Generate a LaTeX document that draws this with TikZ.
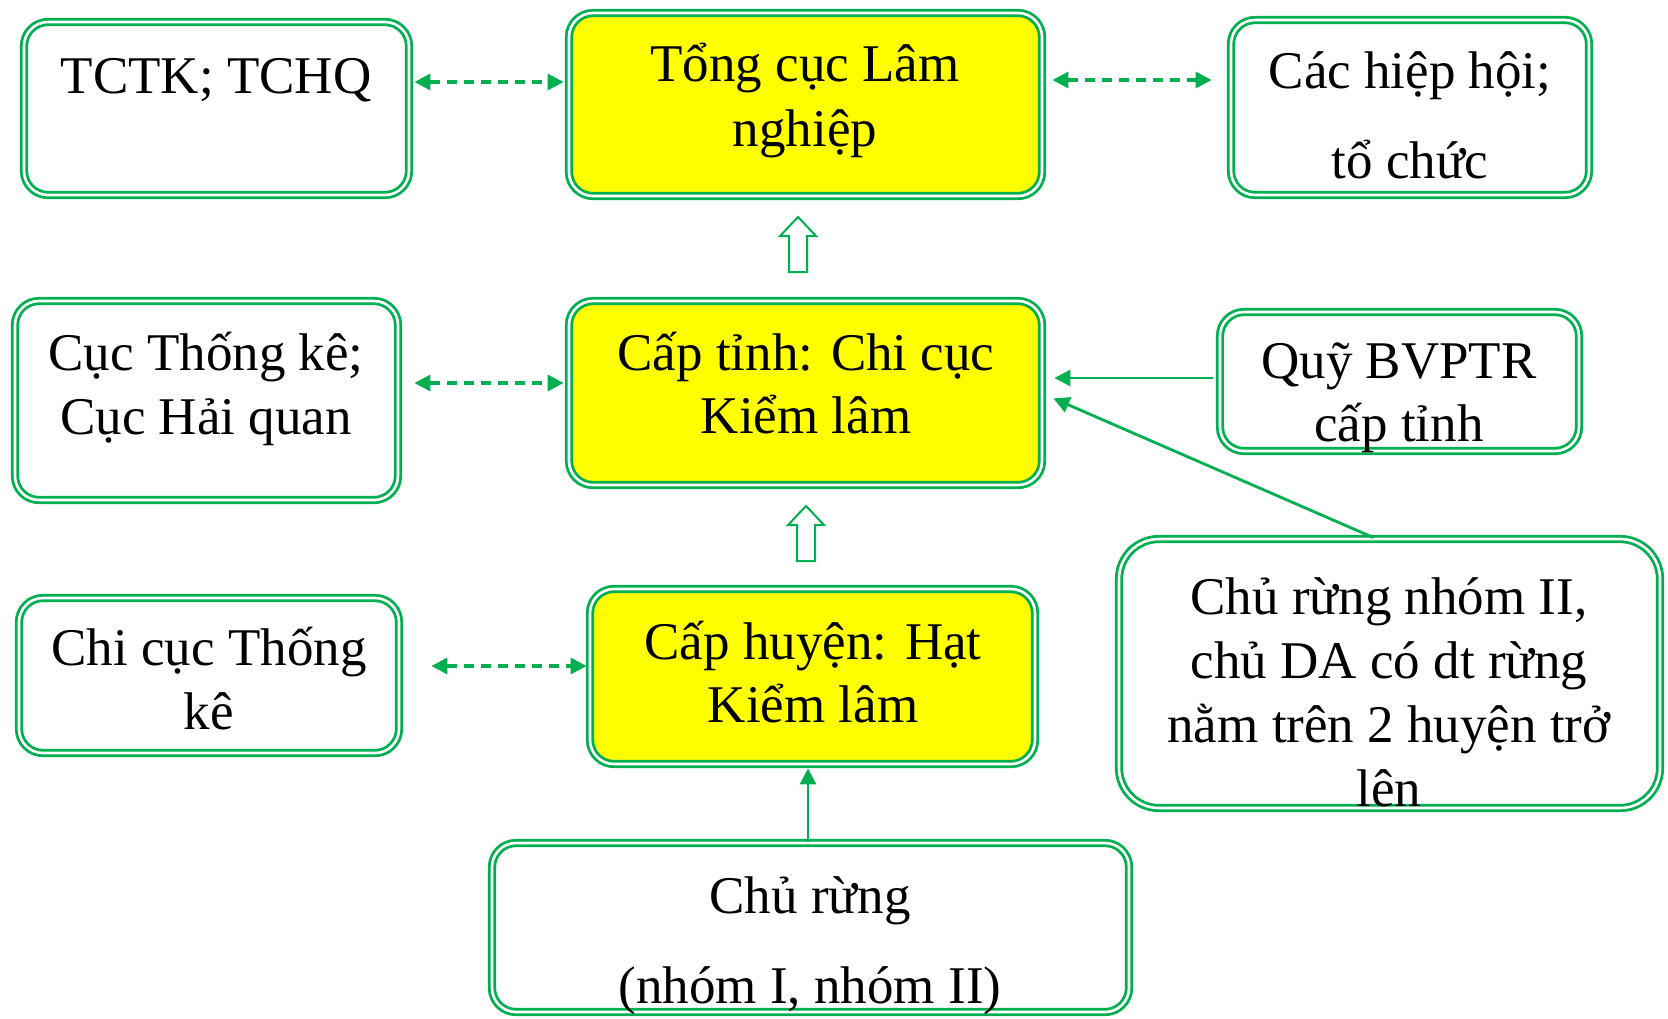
\documentclass[tikz,border=0pt]{standalone}
\usepackage{fontspec}
\setmainfont{Liberation Serif}
\usetikzlibrary{arrows.meta,fit}
\definecolor{lg}{RGB}{0,176,80}
\definecolor{yel}{RGB}{255,255,0}
\tikzset{
  box/.style={draw=lg, line width=1.4pt, double=white, double distance=1.3pt,
    rounded corners=12pt, inner sep=0pt, rectangle},
  ybox/.style={box, fill=yel},
  lbl/.style={anchor=base, inner sep=0pt, font=\fontsize{26.5}{32}\selectfont},
  darr/.style={lg, line width=1.6pt, dash pattern=on 5pt off 3.5pt,
    {Triangle[length=8pt,width=8pt]}-{Triangle[length=8pt,width=8pt]}},
  sarr/.style={lg, line width=1.4pt, -{Triangle[length=8pt,width=8pt]}},
  blockup/.pic={\draw[lg, line width=1pt, fill=white, line join=miter]
    (0,0) -- (18,19) -- (9,19) -- (9,55) -- (-9,55) -- (-9,19) -- (-18,19) -- cycle;}
}
\begin{document}
\begin{tikzpicture}[x=0.5pt,y=-0.5pt]
\useasboundingbox[fill=white] (0,0) rectangle (1668,1018);

% boxes
\node[box,  fit={(24,22) (409,195)}] (b1) {};
\node[ybox, fit={(569,13) (1042,196)}] (b2) {};
\node[box,  fit={(1231,20) (1589,195)}] (b3) {};
\node[box,  fit={(15,301) (398,500)}] (b4) {};
\node[ybox, fit={(569,301) (1042,485)}] (b5) {};
\node[box,  fit={(1220,312) (1579,451)}] (b6) {};
\node[box,  fit={(19,598) (399,753)}] (b7) {};
\node[ybox, fit={(590,589) (1035,764)}] (b8) {};
\node[box, rounded corners=20pt, fit={(1119,539) (1660,808)}] (b9) {};
\node[box,  fit={(492,843) (1129,1012)}] (b10) {};

% texts
\node[lbl] (t1) at (216,93) {TCTK; TCHQ};
\node[lbl] (t2a) at (805,81) {Tổng cục Lâm};
\node[lbl] (t2b) at (805,146) {nghiệp};
\node[lbl] (t3a) at (1410,88) {Các hiệp hội;};
\node[lbl] (t3b) at (1410,178) {tổ chức};
\node[lbl] (t4a) at (206,370) {Cục Thống kê;};
\node[lbl] (t4b) at (206,434) {Cục Hải quan};
\node[lbl] (t5a) at (806,370) {Cấp tỉnh: Chi cục};
\node[lbl] (t5b) at (806,433) {Kiểm lâm};
\node[lbl] (t6a) at (1399,378) {Quỹ BVPTR};
\node[lbl] (t6b) at (1399,441) {cấp tỉnh};
\node[lbl] (t7a) at (209,665) {Chi cục Thống};
\node[lbl] (t7b) at (209,729) {kê};
\node[lbl] (t8a) at (813,659) {Cấp huyện: Hạt};
\node[lbl] (t8b) at (813,722) {Kiểm lâm};
\node[lbl] (t9a) at (1389,614) {Chủ rừng nhóm II,};
\node[lbl] (t9b) at (1389,678) {chủ DA có dt rừng};
\node[lbl] (t9c) at (1389,742) {nằm trên 2 huyện trở};
\node[lbl] (t9d) at (1389,806) {lên};
\node[lbl] (t10a) at (810,913) {Chủ rừng};
\node[lbl] (t10b) at (810,1003) {(nhóm I, nhóm II)};

% connectors
\draw[darr, shorten <=2pt, shorten >=2pt] (b1.east |- 0,82) -- (b2.west |- 0,82);
\draw[darr, shorten <=4.5pt, shorten >=9pt] (b2.east |- 0,80) -- (b3.west |- 0,80);
\draw[darr, shorten <=7.5pt, shorten >=2pt] (b4.east |- 0,383) -- (b5.west |- 0,383);
\draw[darr, shorten <=15.5pt, shorten >=1pt] (b7.east |- 0,666) -- (b8.west |- 0,666);
\draw[sarr, shorten <=3pt, shorten >=5.5pt] (b6.west |- 0,378) -- (b5.east |- 0,378);
\draw[sarr, shorten >=5.5pt] ([xshift=-8pt]b9.north) -- (b5.east |- 0,394);
\draw[sarr, shorten >=1.5pt] (b10.north -| 808,0) -- (b8.south -| 808,0);

% block arrows
\pic at (798,217) {blockup};
\pic at (806,506) {blockup};
\end{tikzpicture}
\end{document}
